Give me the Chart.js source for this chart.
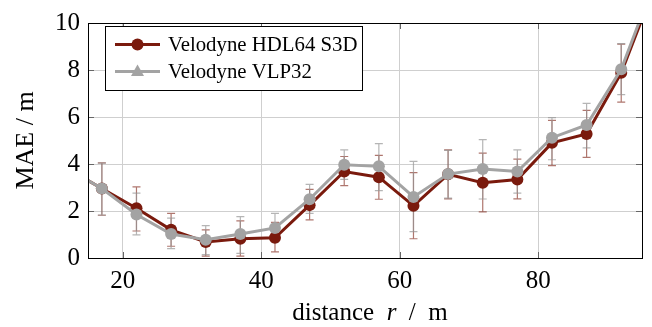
<!DOCTYPE html>
<html lang="en">
<head>
<meta charset="UTF-8">
<title>MAE over distance</title>
<script src="https://cdn.jsdelivr.net/npm/chart.js"></script>
<style>
    body { margin: 0; background: #fff; }
</style>
</head>
<body>
<canvas id="maeChart" width="652" height="327"></canvas>
<script>
// distance in m; first and last entries lie outside the shown range (lines run off the frame)
const distances = [12, 17, 22, 27, 32, 37, 42, 47, 52, 57, 62, 67, 72, 77, 82, 87, 92, 97];

// Velodyne HDL64 S3D
const hdlMae  = [3.8, 2.96, 2.12, 1.2, 0.68, 0.82, 0.86, 2.25, 3.68, 3.44, 2.22, 3.56, 3.2, 3.34, 4.9, 5.28, 7.88, 11.7];
const hdlLow  = [null, 1.82, 1.15, 0.5, 0.08, 0.08, 0.26, 1.62, 3.08, 2.5, 0.82, 2.52, 1.96, 2.52, 3.93, 4.28, 6.63, null];
const hdlHigh = [null, 4.05, 3.03, 1.9, 1.2, 1.58, 1.52, 2.92, 4.32, 4.37, 3.63, 4.6, 4.46, 4.21, 5.86, 6.28, 9.1, null];

// Velodyne VLP32
const vlpMae  = [3.8, 2.96, 1.85, 1.02, 0.78, 1.02, 1.28, 2.5, 3.97, 3.9, 2.6, 3.57, 3.79, 3.68, 5.12, 5.66, 8.03, 11.9];
const vlpLow  = [null, 1.83, 0.98, 0.4, 0.14, 0.2, 0.68, 1.9, 3.35, 2.87, 1.12, 2.55, 2.51, 2.76, 4.18, 4.69, 6.95, null];
const vlpHigh = [null, 4.04, 2.76, 1.7, 1.38, 1.76, 1.9, 3.13, 4.6, 4.87, 4.11, 4.58, 5.04, 4.6, 5.97, 6.58, 9.12, null];

const xTicks = [20, 40, 60, 80];
const yTicks = [0, 2, 4, 6, 8, 10];

const red = '#7a1a0d';
const gray = '#a3a3a3';
const serif = '"Liberation Serif", "Times New Roman", serif';

const hasPoint = i => hdlLow[i] !== null;

// vertical error bars with caps, under the lines
const errorBars = {
    id: 'errorBars',
    beforeDatasetsDraw(chart) {
        const { ctx, chartArea: a, scales: { x, y } } = chart;
        ctx.save();
        ctx.beginPath();
        ctx.rect(a.left, a.top, a.right - a.left, a.bottom - a.top);
        ctx.clip();
        ctx.lineWidth = 1.2;
        [[hdlLow, hdlHigh, 'rgba(122,26,13,0.6)'], [vlpLow, vlpHigh, 'rgba(150,150,150,0.7)']].forEach(([lo, hi, col]) => {
            ctx.strokeStyle = col;
            distances.forEach((d, i) => {
                if (lo[i] === null) return;
                const px = x.getPixelForValue(d);
                const y0 = y.getPixelForValue(lo[i]);
                const y1 = y.getPixelForValue(hi[i]);
                ctx.beginPath();
                ctx.moveTo(px, y0); ctx.lineTo(px, y1);
                ctx.moveTo(px - 4, y0); ctx.lineTo(px + 4, y0);
                ctx.moveTo(px - 4, y1); ctx.lineTo(px + 4, y1);
                ctx.stroke();
            });
        });
        ctx.restore();
    }
};

// frame, inner tick marks, axis titles and legend
const decorations = {
    id: 'decorations',
    afterDraw(chart) {
        const { ctx, chartArea: a, scales: { x, y } } = chart;
        ctx.save();

        // inner tick marks
        ctx.strokeStyle = '#666';
        ctx.lineWidth = 1;
        ctx.beginPath();
        xTicks.forEach(v => {
            const px = Math.round(x.getPixelForValue(v)) + 0.5;
            ctx.moveTo(px, a.bottom); ctx.lineTo(px, a.bottom - 6);
            ctx.moveTo(px, a.top); ctx.lineTo(px, a.top + 6);
        });
        yTicks.forEach(v => {
            const py = Math.round(y.getPixelForValue(v)) + 0.5;
            ctx.moveTo(a.left, py); ctx.lineTo(a.left + 6, py);
            ctx.moveTo(a.right, py); ctx.lineTo(a.right - 6, py);
        });
        ctx.stroke();

        // frame
        ctx.strokeStyle = '#000';
        ctx.strokeRect(Math.round(a.left) + 0.5, Math.round(a.top) + 0.5,
            Math.round(a.right - a.left), Math.round(a.bottom - a.top));

        // y title
        ctx.fillStyle = '#000';
        ctx.font = '26px ' + serif;
        ctx.textAlign = 'center';
        ctx.textBaseline = 'alphabetic';
        ctx.translate(33, (a.top + a.bottom) / 2);
        ctx.rotate(-Math.PI / 2);
        ctx.fillText('MAE / m', 0, 0);
        ctx.setTransform(1, 0, 0, 1, 0, 0);

        // x title with italic r
        const parts = [['distance  ', ''], ['r', 'italic '], ['  /  m', '']];
        let total = 0;
        parts.forEach(p => { ctx.font = p[1] + '25px ' + serif; total += ctx.measureText(p[0]).width; });
        let cx = (a.left + a.right) / 2 + 5 - total / 2;
        ctx.textAlign = 'left';
        parts.forEach(p => {
            ctx.font = p[1] + '25px ' + serif;
            ctx.fillText(p[0], cx, 320);
            cx += ctx.measureText(p[0]).width;
        });

        // legend
        const bx = 105.5, by = 26.5, bw = 257, bh = 64;
        ctx.fillStyle = '#fff';
        ctx.fillRect(bx, by, bw, bh);
        ctx.strokeStyle = '#000';
        ctx.lineWidth = 1;
        ctx.strokeRect(bx, by, bw, bh);
        ctx.font = '20.8px ' + serif;
        ctx.textBaseline = 'middle';
        chart.data.datasets.forEach((ds, i) => {
            const ly = 44.5 + i * 27;
            ctx.strokeStyle = ds.borderColor;
            ctx.lineWidth = 3;
            ctx.beginPath();
            ctx.moveTo(115, ly); ctx.lineTo(160, ly);
            ctx.stroke();
            ctx.fillStyle = ds.borderColor;
            ctx.beginPath();
            if (i === 0) {
                ctx.arc(137.5, ly, 6, 0, Math.PI * 2);
            } else {
                ctx.moveTo(137.5, ly - 7); ctx.lineTo(144, ly + 4.5); ctx.lineTo(131, ly + 4.5);
                ctx.closePath();
            }
            ctx.fill();
            ctx.fillStyle = '#000';
            ctx.fillText(ds.label, 168, ly + 1);
        });
        ctx.restore();
    }
};

const toPoints = vals => distances.map((d, i) => ({ x: d, y: vals[i] }));

new Chart(document.getElementById('maeChart'), {
    type: 'line',
    data: {
        datasets: [{
            label: 'Velodyne HDL64 S3D',
            data: toPoints(hdlMae),
            borderColor: red,
            backgroundColor: red,
            borderWidth: 3,
            pointRadius: c => hasPoint(c.dataIndex) ? 6 : 0,
            pointBorderWidth: 0,
            order: 1,
            clip: 0
        }, {
            label: 'Velodyne VLP32',
            data: toPoints(vlpMae),
            borderColor: gray,
            backgroundColor: gray,
            borderWidth: 3,
            pointRadius: c => hasPoint(c.dataIndex) ? 6 : 0,
            pointBorderWidth: 0,
            order: 0,
            clip: 0
        }]
    },
    options: {
        responsive: false,
        animation: false,
        layout: { padding: { top: 18, right: 10, left: 0, bottom: 0 } },
        plugins: { legend: { display: false }, tooltip: { enabled: false } },
        scales: {
            x: {
                type: 'linear',
                min: 15,
                max: 95,
                afterBuildTicks: s => { s.ticks = xTicks.map(v => ({ value: v })); },
                afterFit: s => { s.height = 69; },
                grid: { color: '#cfcfcf', lineWidth: 1, drawTicks: false },
                border: { display: false },
                ticks: { padding: 8, color: '#000', font: { family: serif, size: 25 } }
            },
            y: {
                min: 0,
                max: 10,
                afterBuildTicks: s => { s.ticks = yTicks.map(v => ({ value: v })); },
                afterFit: s => { s.width = 88; },
                grid: { color: '#cfcfcf', lineWidth: 1, drawTicks: false },
                border: { display: false },
                ticks: { padding: 8, color: '#000', font: { family: serif, size: 25 } }
            }
        }
    },
    plugins: [errorBars, decorations]
});
</script>
</body>
</html>
